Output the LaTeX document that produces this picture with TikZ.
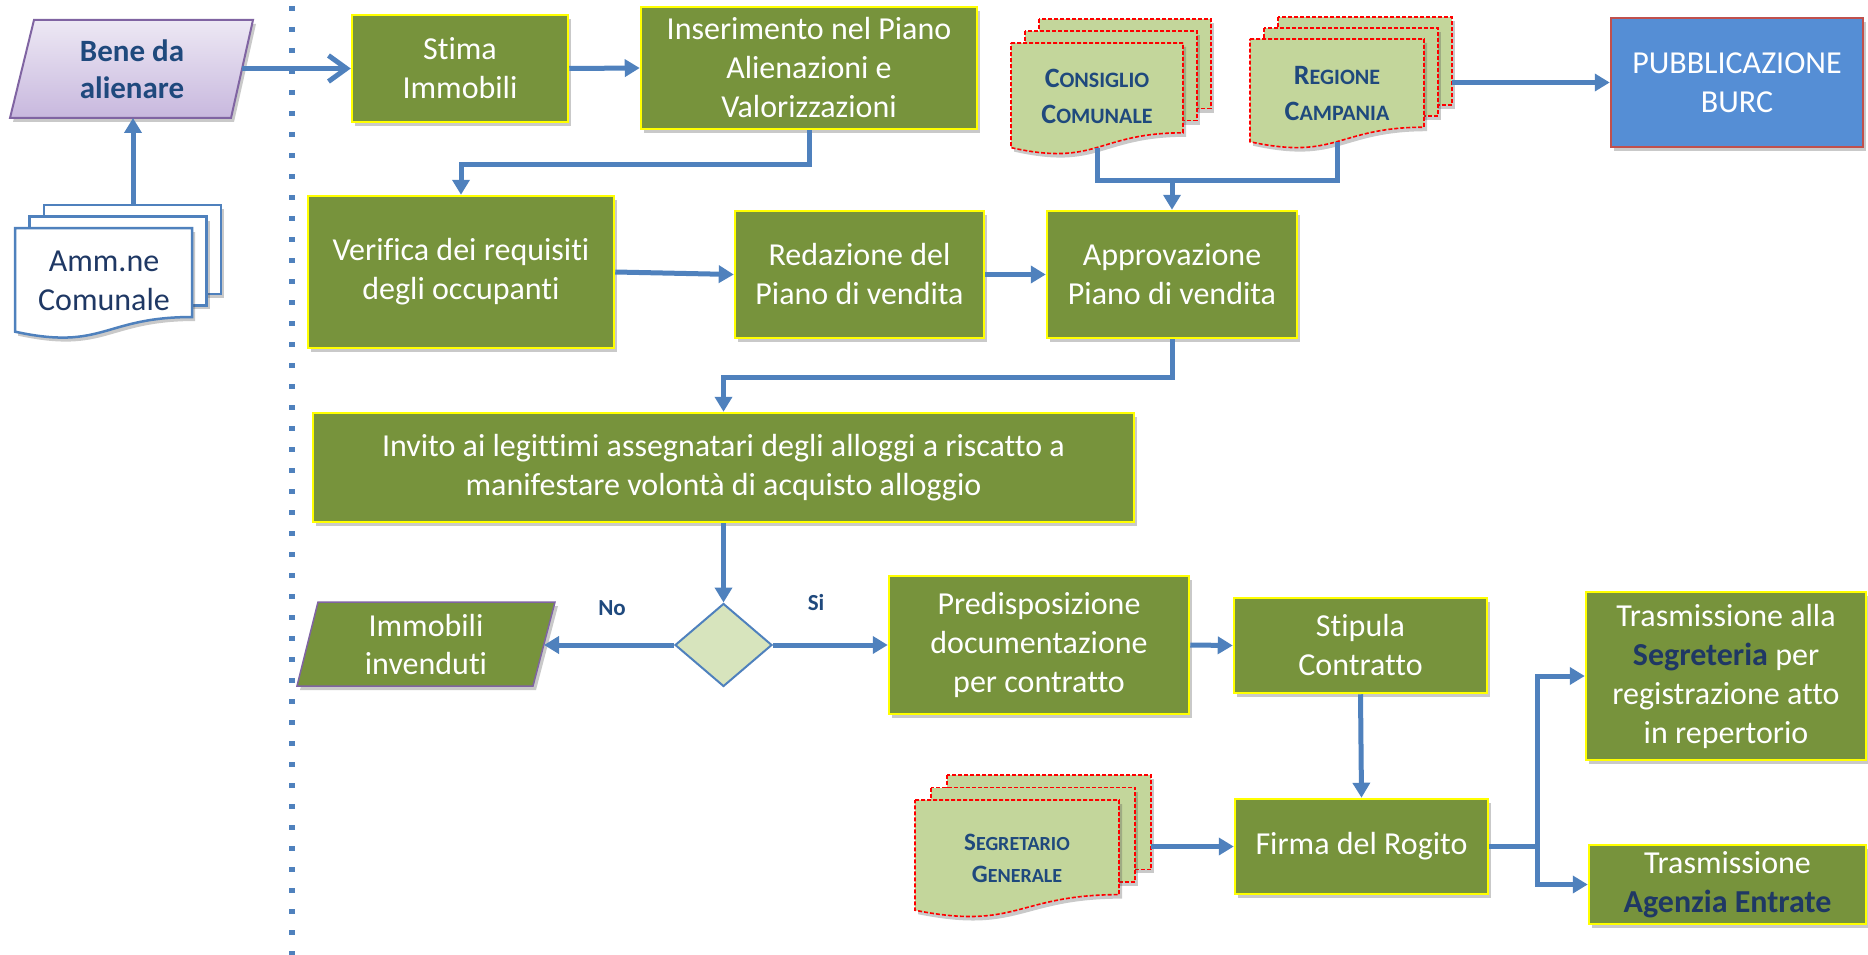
\documentclass[tikz,border=0pt]{standalone}
\usepackage{fontspec}
\setmainfont{Carlito}[Ligatures={NoCommon,NoContextual}]
\usetikzlibrary{arrows.meta,shapes.geometric,shadows}
\definecolor{cgreen}{HTML}{77933C}
\definecolor{cyellow}{HTML}{FFFF00}
\definecolor{cblue}{HTML}{4F81BD}
\definecolor{cdoc}{HTML}{C3D69B}
\definecolor{cred}{HTML}{FF0000}
\definecolor{cnavy}{HTML}{1F3864}
\definecolor{ctitle}{HTML}{1F497D}
\definecolor{cpurple}{HTML}{8064A2}
\definecolor{cdia}{HTML}{D7E4BD}
\definecolor{cpub}{HTML}{558ED5}
\definecolor{cpubb}{HTML}{C0504D}
\definecolor{clavtop}{HTML}{EDE8F4}
\definecolor{clavbot}{HTML}{C8B8DE}
\newcommand{\DocStack}[7]{%
  \path[#7] ({#1+2*#5},{#2-2*#6}) rectangle ({#3+2*#5},{#2-2*#6+0.8*#4});
  \path[#7] ({#1+#5},{#2-#6}) rectangle ({#3+#5},{#2-#6+0.8*#4});
  \path[#7] (#1,#2) -- (#3,#2) -- (#3,{#2+0.802*#4}) .. controls ({(#1+#3)/2},{#2+0.802*#4}) and ({(#1+#3)/2},{#2+1.1075*#4}) .. (#1,{#2+0.934*#4}) -- cycle;
}
\newcommand{\BigA}[1]{{\fontsize{28}{36}\selectfont #1}}
\newcommand{\BigB}[1]{{\fontsize{25}{32}\selectfont #1}}
\tikzset{
  boxsh/.style={drop shadow={shadow xshift=3pt,shadow yshift=-4pt,opacity=0.3,fill=black!70}},
  gbox/.style={rectangle, fill=cgreen, draw=cyellow, line width=2.5pt, text=white, align=center, inner sep=0pt, font=\fontsize{32}{39}\selectfont, boxsh},
  pbox/.style={rectangle, fill=cpub, draw=cpubb, line width=2.5pt, text=white, align=center, inner sep=0pt, font=\fontsize{32}{39}\selectfont, boxsh},
  conn/.style={draw=cblue, line width=5pt, -{Triangle[length=15pt,width=17pt]}},
  openarr/.style={draw=cblue, line width=5pt, -{Straight Barb[length=18pt,width=26pt,line width=5pt]}},
  cline/.style={draw=cblue, line width=5pt},
  sepline/.style={draw=cblue, line width=6pt, dash pattern=on 5pt off 16pt},
  docg/.style={fill=cdoc, draw=cred, line width=1.6pt, dash pattern=on 4pt off 2pt, boxsh},
  docw/.style={fill=white, draw=cblue, line width=2.5pt, boxsh},
  doctext/.style={text=ctitle, font=\bfseries\fontsize{22}{36}\selectfont, align=center, inner sep=0pt},
  doctextb/.style={text=ctitle, font=\bfseries\fontsize{20}{32}\selectfont, align=center, inner sep=0pt},
  ammtext/.style={text=cnavy, font=\fontsize{32}{39}\selectfont, align=center, inner sep=0pt},
  benefill/.style={top color=clavtop, bottom color=clavbot, draw=cpurple, line width=2pt},
  benetext/.style={text=ctitle, font=\bfseries\fontsize{31}{37}\selectfont, align=center, inner sep=0pt},
  immfill/.style={fill=cgreen, draw=cpurple, line width=1.5pt},
  wtext/.style={text=white, font=\fontsize{32}{38}\selectfont, align=center, inner sep=0pt},
  diam/.style={diamond, fill=cdia, draw=cblue, line width=2pt, inner sep=0pt},
  lbl/.style={text=ctitle, font=\bfseries\fontsize{23}{28}\selectfont, inner sep=0pt}
}
\begin{document}
\begin{tikzpicture}[x=1pt,y=-1pt]
\useasboundingbox (0,0) rectangle (1868,955);

% separator
\coordinate (sepT) at (292,6);
\coordinate (sepB) at (292,955);
\draw[sepline] (sepT) -- (sepB);

% Bene da alienare
\path[benefill, boxsh] (34,20) -- (253,20) -- (231,118) -- (10,118) -- cycle;
\node[benetext] (bene) at (132,69) {Bene da\\alienare};
\coordinate (bene-e) at (242,68.5);
\coordinate (bene-s) at (133,118);

% Amm.ne Comunale
\DocStack{15}{228}{192}{111}{14.5}{11.5}{docw}
\node[ammtext] (amm) at (104,281) {Amm.ne\\Comunale};
\coordinate (amm-t) at (133,205);

% Main boxes
\node[gbox, minimum width=216pt, minimum height=107pt] (stima) at (460,68.5) {Stima\\Immobili};
\node[gbox, minimum width=336pt, minimum height=122pt] (ins) at (809,68) {Inserimento nel Piano\\Alienazioni e\\Valorizzazioni};
\node[gbox, minimum width=306pt, minimum height=152pt] (ver) at (461,272) {Verifica dei requisiti\\degli occupanti};
\node[gbox, minimum width=249pt, minimum height=127pt] (red) at (859.5,274.5) {Redazione del\\Piano di vendita};
\node[gbox, minimum width=250pt, minimum height=127pt] (appr) at (1172,274.5) {Approvazione\\Piano di vendita};
\node[pbox, minimum width=252pt, minimum height=129pt] (pub) at (1737,82.5) {PUBBLICAZIONE\\BURC};
\node[gbox, minimum width=821pt, minimum height=109pt] (inv) at (723.5,467.5) {Invito ai legittimi assegnatari degli alloggi a riscatto a\\manifestare volontà di acquisto alloggio};
\node[gbox, minimum width=300pt, minimum height=138pt] (pred) at (1039,645) {Predisposizione\\documentazione\\per contratto};
\node[gbox, minimum width=253pt, minimum height=95pt] (stip) at (1360.5,645.5) {Stipula\\Contratto};
\node[gbox, minimum width=253pt, minimum height=95pt] (firma) at (1361.5,846.5) {Firma del Rogito};
\node[gbox, minimum width=280pt, minimum height=168pt] (segr) at (1726,676) {Trasmissione alla\\\textbf{\textcolor{cnavy}{Segreteria}} per\\registrazione atto\\in repertorio};
\node[gbox, minimum width=277pt, minimum height=79pt] (agen) at (1727.5,884.5) {Trasmissione\\\textbf{\textcolor{cnavy}{Agenzia Entrate}}};

% Document stacks
\DocStack{1011}{43}{1183}{112}{14}{12}{docg}
\node[doctext] (cons) at (1097,96) {\BigA{C}ONSIGLIO\\\BigA{C}OMUNALE};
\coordinate (cons-b) at (1097,148);

\DocStack{1250}{39}{1424}{110}{14}{11}{docg}
\node[doctext] (reg) at (1337,94) {\BigA{R}EGIONE\\\BigA{C}AMPANIA};
\coordinate (reg-b) at (1337,142);
\coordinate (reg-e) at (1452,82.5);

\DocStack{915}{800}{1119}{118}{16}{12.5}{docg}
\node[doctextb] (seg) at (1017,858) {\BigB{S}EGRETARIO\\\BigB{G}ENERALE};
\coordinate (seg-e) at (1151,846.5);

% Decision and unsold
\node[diam, minimum width=97pt, minimum height=83pt] (dia) at (723.5,645) {};
\path[immfill, boxsh] (318,602) -- (555,602) -- (533,686) -- (297,686) -- cycle;
\node[wtext] (imm) at (426,645) {Immobili\\invenduti};
\coordinate (imm-e) at (544,645);
\node[lbl] (no) at (612,608) {No};
\node[lbl] (si) at (816,603) {Si};

% Connectors
\draw[openarr] (bene-e) -- (stima.west);
\draw[conn] (amm-t) -- (bene-s);
\draw[conn] (stima.east) -- (ins.west);
\draw[conn] (ins.south) -- ++(0,34) -| (ver.north);
\draw[conn] (ver.east) -- (red.west);
\draw[conn] (red.east) -- (appr.west);
\coordinate (jn) at (1172,180);
\draw[cline] (cons-b) |- (jn) -| (reg-b);
\draw[conn] (jn) -- (appr.north);
\draw[conn] (reg-e) -- (pub.west);
\draw[conn] (appr.south) -- ++(0,38) -| (inv.north);
\draw[conn] (inv.south) -- (dia.north);
\draw[conn] (dia.west) -- (imm-e);
\draw[conn] (dia.east) -- (pred.west);
\draw[conn] (pred.east) -- (stip.west);
\draw[conn] (stip.south) -- (firma.north);
\draw[conn] (seg-e) -- (firma.west);
\coordinate (br) at (1537,846.5);
\draw[cline] (firma.east) -- (br);
\draw[conn] (br) |- (segr.west);
\draw[conn] (br) |- (agen.west);
\end{tikzpicture}
\end{document}
